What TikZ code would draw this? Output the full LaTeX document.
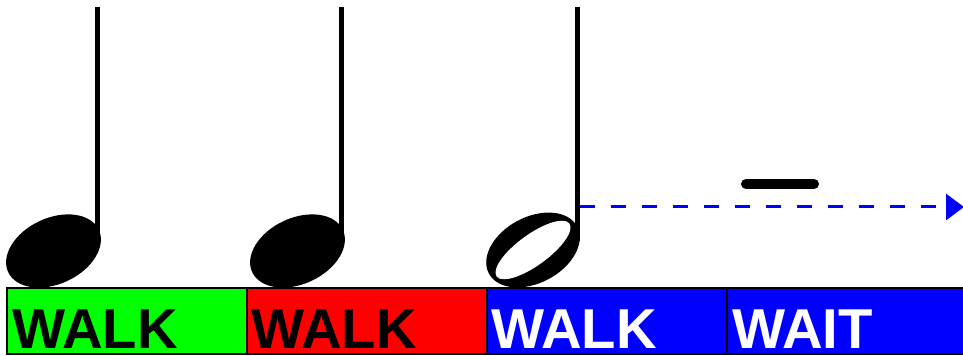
\documentclass[tikz,border=0pt]{standalone}
\usepackage{fontspec}
\setsansfont{Liberation Sans}
\usetikzlibrary{arrows.meta,positioning,calc,shapes.geometric}
\definecolor{go}{HTML}{00FF00}
\definecolor{stop}{HTML}{FF0000}
\definecolor{hold}{HTML}{0000FF}

\begin{document}
\begin{tikzpicture}[
  x=0.02cm, y=0.02cm,
  beat/.style={draw=black, line width=0.04cm, minimum width=4.8cm,
               minimum height=1.32cm, outer sep=0pt, inner sep=0pt},
  word/.style={font=\sffamily\bfseries\fontsize{32}{32}\selectfont,
               inner sep=0pt, anchor=base west},
  notehead/.style={ellipse, fill=black, inner sep=0pt, rotate=25,
                   minimum width=2.0cm, minimum height=1.32cm},
  hole/.style={ellipse, fill=white, inner sep=0pt, rotate=36,
               minimum width=1.8cm, minimum height=0.62cm},
  notestem/.style={line width=0.1cm},
  restbar/.style={line width=0.2cm, line cap=round},
  sustain/.style={-{Triangle[length=0.36cm, width=0.52cm]}, draw=hold,
                  line width=0.06cm, dash pattern=on 0.3cm off 0.32cm}
]
\useasboundingbox (0,0) rectangle (963,355);

% beats
\node[beat, fill=go, anchor=south west] (b1) at (7,1) {};
\node[beat, fill=stop, right=0pt of b1] (b2) {};
\node[beat, fill=hold, right=0pt of b2] (b3) {};
\node[beat, fill=hold, right=0pt of b3] (b4) {};
\node[word] (w1) at ($(b1.south west)+(5,6)$) {WALK};
\node[word] (w2) at ($(b2.south west)+(4,6)$) {WALK};
\node[word, text=white] (w3) at ($(b3.south west)+(4,6)$) {WALK};
\node[word, text=white] (w4) at ($(b4.south west)+(5,6)$) {WAIT};

% notes
\node[notehead] (h1) at (53.5,104) {};
\node[notehead] (h2) at (297.5,104) {};
\node[notehead, rotate=3] (h3) at (533,105) {};
\node[hole] (o3) at (h3) {};
\coordinate (s1) at (97.5,112);
\coordinate (s2) at (341.5,112);
\coordinate (s3) at (577.5,114);
\draw[notestem] (s1) -- ++(0,236);
\draw[notestem] (s2) -- ++(0,236);
\draw[notestem] (s3) -- ++(0,234);

% rest and hold
\coordinate (r1) at (746,171);
\coordinate (r2) at (814,171);
\draw[restbar] (r1) -- (r2);
\coordinate (tie) at (580,148);
\coordinate (tip) at (964,148);
\draw[sustain] (tie) -- (tip);

\end{tikzpicture}
\end{document}
